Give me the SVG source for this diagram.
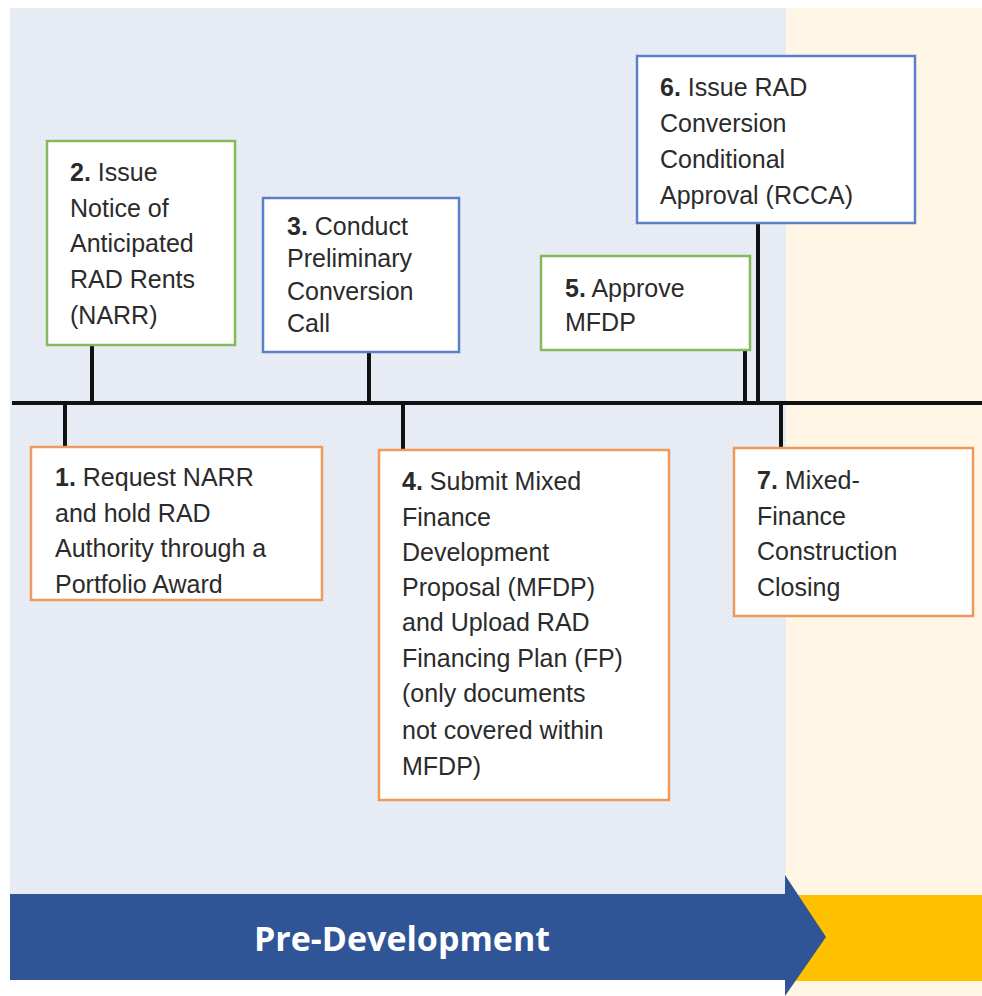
<svg xmlns="http://www.w3.org/2000/svg" width="982" height="996" viewBox="0 0 982 996">
<defs>
<pattern id="dots" width="4" height="4" patternUnits="userSpaceOnUse">
<rect width="4" height="4" fill="#E9EEF6"/>
<rect x="0" y="0" width="1" height="1" fill="#D9DFEA"/>
<rect x="2" y="2" width="1" height="1" fill="#DDE3ED"/>
</pattern>
</defs>
<style>
.box{fill:#FFFFFF;stroke-width:2.5}
.g{stroke:#86B95C}
.b{stroke:#5B7FC8}
.o{stroke:#EE9A5E}
.t{font-family:"Liberation Sans",Arial,sans-serif;font-size:25px;fill:#2B2B2B}
.n{font-weight:bold}
.ln{stroke:#111111;stroke-width:4;fill:none}
</style>
<rect x="0" y="0" width="982" height="996" fill="#FFFFFF"/>
<rect x="10" y="8" width="776" height="886" fill="url(#dots)"/>
<rect x="786" y="8" width="196" height="988" fill="#FFF6E6"/>
<g id="connectors">
<line class="ln" x1="12" y1="403" x2="982" y2="403"/>
<line class="ln" x1="92" y1="345" x2="92" y2="403"/>
<line class="ln" x1="65" y1="403" x2="65" y2="447"/>
<line class="ln" x1="369" y1="352" x2="369" y2="403"/>
<line class="ln" x1="403" y1="403" x2="403" y2="450"/>
<line class="ln" x1="745" y1="350" x2="745" y2="403"/>
<line class="ln" x1="758" y1="223" x2="758" y2="403"/>
<line class="ln" x1="781" y1="403" x2="781" y2="448"/>
</g>
<g id="n2">
<rect class="box g" x="47" y="141" width="188" height="204"/>
<text class="t" x="70"><tspan x="70" y="181"><tspan class="n">2.</tspan> Issue</tspan><tspan x="70" y="217">Notice of</tspan><tspan x="70" y="252">Anticipated</tspan><tspan x="70" y="288">RAD Rents</tspan><tspan x="70" y="324">(NARR)</tspan></text>
</g>
<g id="n3">
<rect class="box b" x="263" y="198" width="196" height="154"/>
<text class="t"><tspan x="287" y="235"><tspan class="n">3.</tspan> Conduct</tspan><tspan x="287" y="267">Preliminary</tspan><tspan x="287" y="300">Conversion</tspan><tspan x="287" y="332">Call</tspan></text>
</g>
<g id="n5">
<rect class="box g" x="541" y="256" width="209" height="94"/>
<text class="t"><tspan x="565" y="297"><tspan class="n">5.</tspan> Approve</tspan><tspan x="565" y="331">MFDP</tspan></text>
</g>
<g id="n6">
<rect class="box b" x="637" y="56" width="278" height="167"/>
<text class="t"><tspan x="660" y="96"><tspan class="n">6.</tspan> Issue RAD</tspan><tspan x="660" y="132">Conversion</tspan><tspan x="660" y="168">Conditional</tspan><tspan x="660" y="204">Approval (RCCA)</tspan></text>
</g>
<g id="n1">
<rect class="box o" x="31" y="447" width="291" height="153"/>
<text class="t"><tspan x="55" y="486"><tspan class="n">1.</tspan> Request NARR</tspan><tspan x="55" y="522">and hold RAD</tspan><tspan x="55" y="557">Authority through a</tspan><tspan x="55" y="593">Portfolio Award</tspan></text>
</g>
<g id="n4">
<rect class="box o" x="379" y="450" width="290" height="350"/>
<text class="t"><tspan x="402" y="490"><tspan class="n">4.</tspan> Submit Mixed</tspan><tspan x="402" y="526">Finance</tspan><tspan x="402" y="561">Development</tspan><tspan x="402" y="596">Proposal (MFDP)</tspan><tspan x="402" y="631">and Upload RAD</tspan><tspan x="402" y="667">Financing Plan (FP)</tspan><tspan x="402" y="702">(only documents</tspan><tspan x="402" y="739">not covered within</tspan><tspan x="402" y="775">MFDP)</tspan></text>
</g>
<g id="n7">
<rect class="box o" x="734" y="448" width="239" height="168"/>
<text class="t"><tspan x="757" y="489"><tspan class="n">7.</tspan> Mixed-</tspan><tspan x="757" y="525">Finance</tspan><tspan x="757" y="560">Construction</tspan><tspan x="757" y="596">Closing</tspan></text>
</g>
<g id="phase">
<rect x="795" y="895" width="187" height="86" fill="#FFC000"/>
<polygon points="10,894 785,894 785,875 826,937 785,996 785,980 10,980" fill="#2F5597"/>
<text x="402" y="951" text-anchor="middle" font-family="'Open Sans','Liberation Sans',sans-serif" font-size="34" font-weight="bold" fill="#FFFFFF">Pre-Development</text>
</g>
</svg>
